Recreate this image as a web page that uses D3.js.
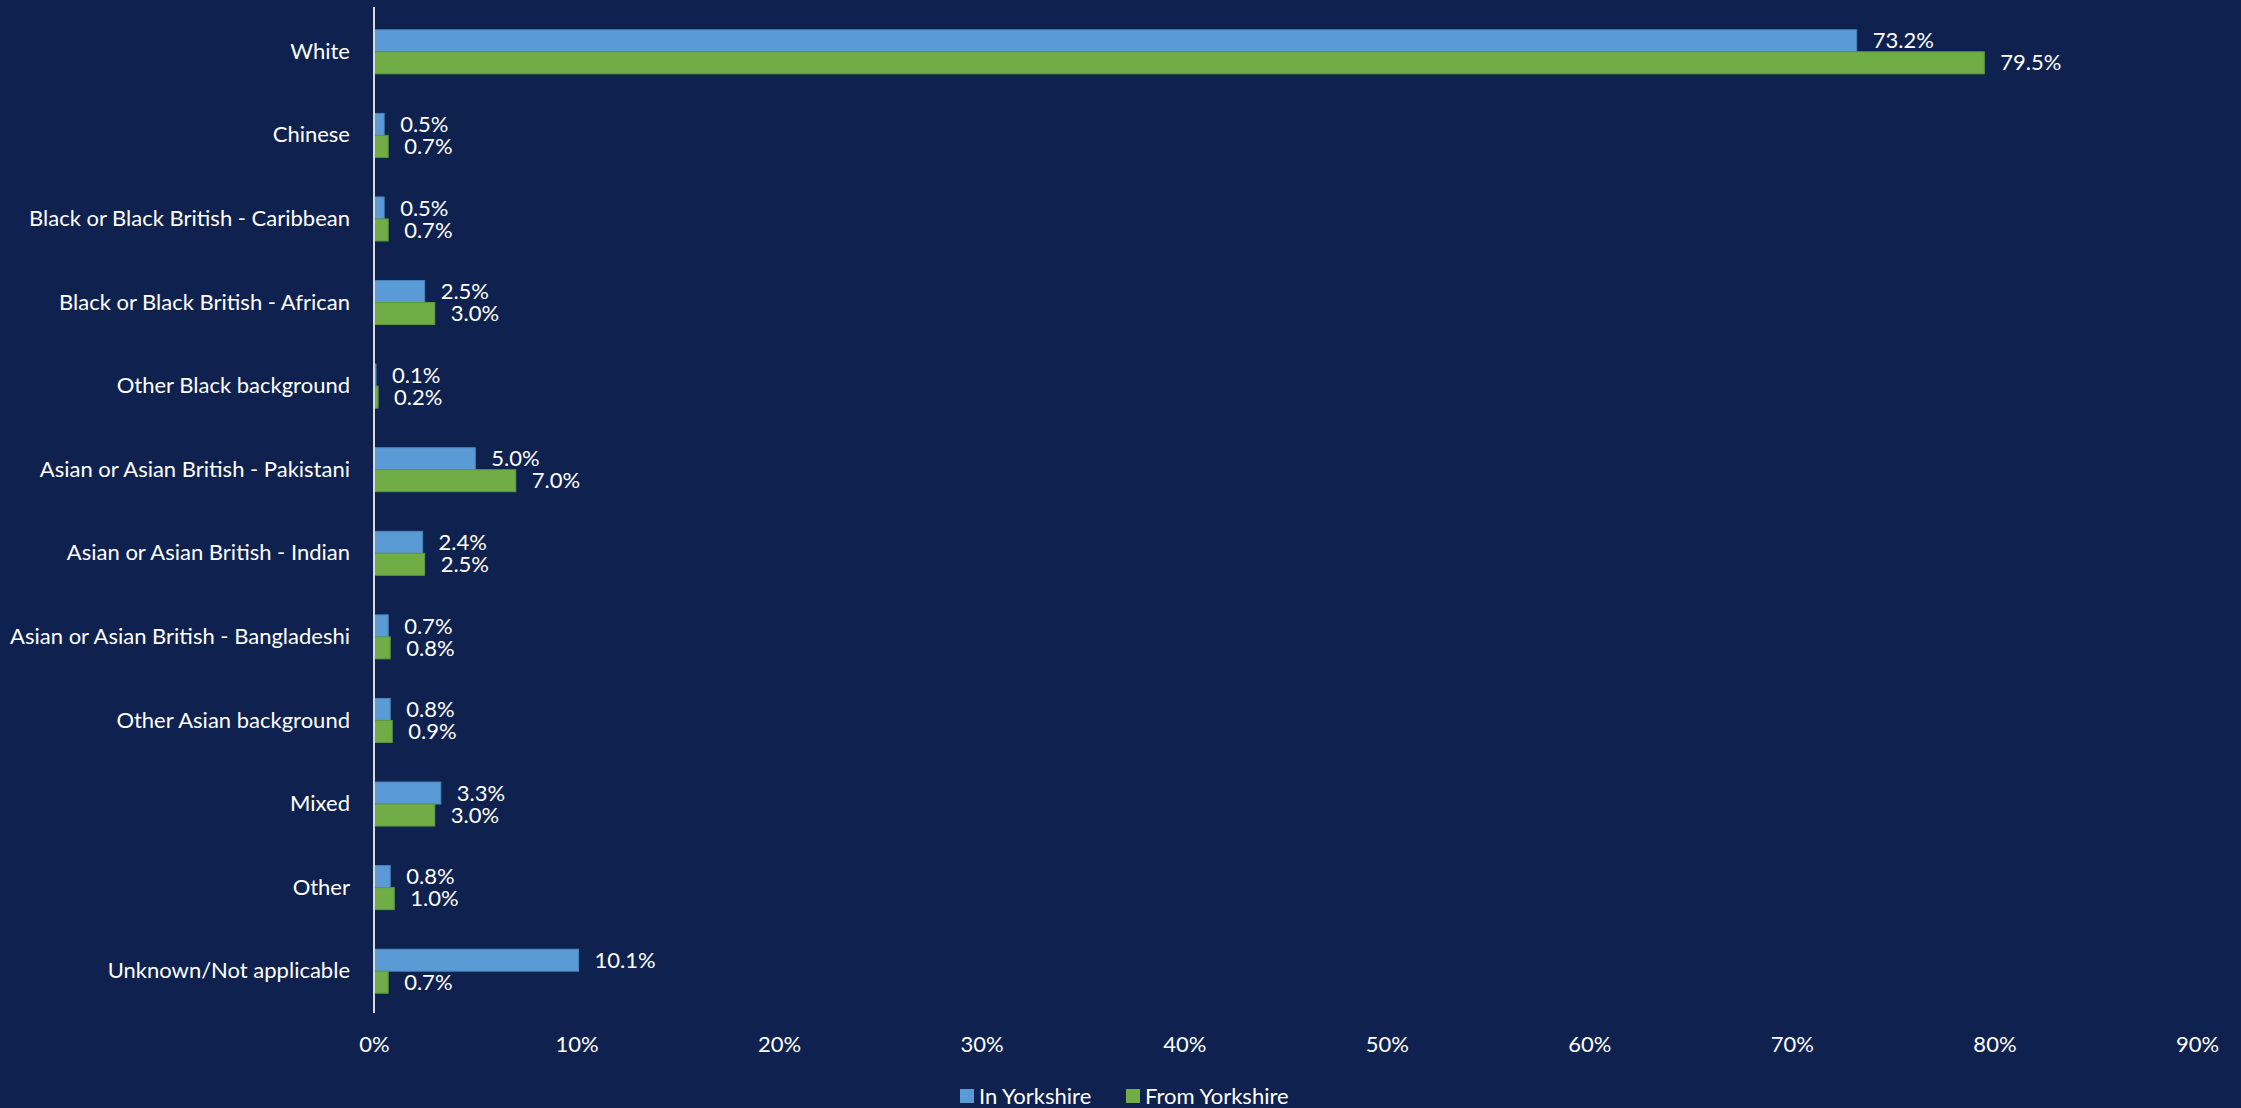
<!DOCTYPE html>
<html>
<head>
<meta charset="utf-8">
<script src="https://cdn.jsdelivr.net/npm/d3@7"></script>
<style>
  html, body { margin: 0; padding: 0; background: #0F224F; }
  svg { display: block; }
  text { font-family: Lato, "Open Sans", sans-serif; fill: #FFFFFF; }
</style>
</head>
<body>
<svg id="chart" width="2241" height="1108"></svg>
<script>
// Ethnic background of people in / from Yorkshire (% share)
const categories = [
  "White",
  "Chinese",
  "Black or Black British - Caribbean",
  "Black or Black British - African",
  "Other Black background",
  "Asian or Asian British - Pakistani",
  "Asian or Asian British - Indian",
  "Asian or Asian British - Bangladeshi",
  "Other Asian background",
  "Mixed",
  "Other",
  "Unknown/Not applicable"
];
const seriesNames = ["In Yorkshire", "From Yorkshire"];
const inYorkshire   = [73.2, 0.5, 0.5, 2.5, 0.1, 5.0, 2.4, 0.7, 0.8, 3.3, 0.8, 10.1];
const fromYorkshire = [79.5, 0.7, 0.7, 3.0, 0.2, 7.0, 2.5, 0.8, 0.9, 3.0, 1.0, 0.7];
const xTicks = [0, 10, 20, 30, 40, 50, 60, 70, 80, 90];

const colors = { fill: ["#5B9BD5", "#70AD47"], stroke: ["#4A86BF", "#5E9A3A"] };

const svg = d3.select("#chart");
const plot = { left: 374, right: 2197, top: 10, bottom: 1013 };

const x = d3.scaleLinear().domain([0, 90]).range([plot.left, plot.right]);
const y = d3.scaleBand().domain(categories).range([plot.top, plot.bottom]).padding(0);

// Excel-style 90% gap width: group occupies step / 1.9
const groupH = y.step() / 1.9;
const inner = d3.scaleBand().domain(seriesNames)
  .range([(y.step() - groupH) / 2, (y.step() + groupH) / 2]).padding(0);

const rows = categories.map((c, i) => ({ cat: c, vals: [inYorkshire[i], fromYorkshire[i]] }));

const g = svg.append("g");
const row = g.selectAll("g.row").data(rows).join("g")
  .attr("class", "row")
  .attr("transform", d => `translate(0,${y(d.cat)})`);

row.selectAll("rect").data(d => d.vals.map((v, k) => ({ v, k })))
  .join("rect")
  .attr("x", x(0))
  .attr("y", d => inner(seriesNames[d.k]))
  .attr("width", d => x(d.v) - x(0))
  .attr("height", inner.bandwidth())
  .attr("fill", d => colors.fill[d.k])
  .attr("stroke", d => colors.stroke[d.k])
  .attr("stroke-width", 1);

row.selectAll("text.val").data(d => d.vals.map((v, k) => ({ v, k })))
  .join("text")
  .attr("class", "val")
  .attr("x", d => x(d.v) + 16)
  .attr("y", d => inner(seriesNames[d.k]) + inner.bandwidth() / 2)
  .attr("dy", "0.35em")
  .attr("font-size", 22)
  .text(d => d.v.toFixed(1) + "%");

// Category axis
const yAxis = d3.axisLeft(y).tickSize(0).tickPadding(24);
const ya = svg.append("g").attr("transform", `translate(${plot.left},0)`).call(yAxis);
ya.select(".domain").attr("stroke", "#D9D9D9").attr("stroke-width", 2)
  .attr("d", `M0,7V${plot.bottom}`);
ya.selectAll("text").attr("font-size", 22).attr("fill", "#FFFFFF")
  .style("font-family", "Lato, 'Open Sans', sans-serif");

// Value axis (labels only)
const xAxis = d3.axisBottom(x).tickValues(xTicks).tickSize(0).tickPadding(0)
  .tickFormat(d => d + "%");
const xa = svg.append("g").attr("transform", `translate(0,1044)`).call(xAxis);
xa.select(".domain").remove();
xa.selectAll("text").attr("font-size", 22).attr("fill", "#FFFFFF").attr("dy", "0.35em")
  .style("font-family", "Lato, 'Open Sans', sans-serif");

// Legend
const legend = svg.append("g").attr("transform", "translate(0,1096)");
const legendX = [960, 1126];
seriesNames.forEach((name, k) => {
  legend.append("rect").attr("x", legendX[k]).attr("y", -7).attr("width", 14).attr("height", 14)
    .attr("fill", colors.fill[k]);
  legend.append("text").attr("x", legendX[k] + 19).attr("y", 0).attr("dy", "0.35em")
    .attr("font-size", 22).text(name);
});
</script>
</body>
</html>
